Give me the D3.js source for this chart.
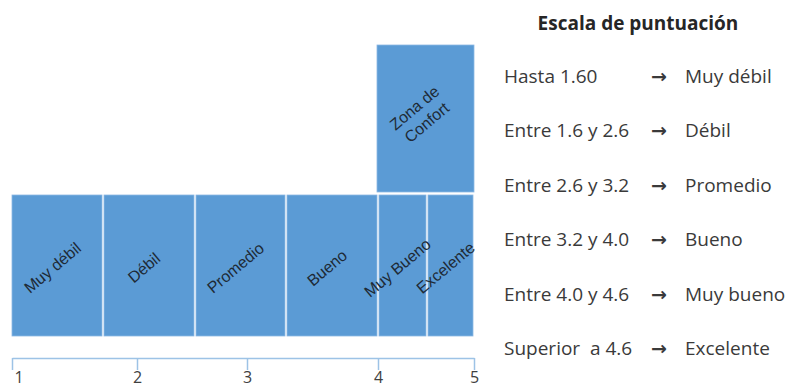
<!DOCTYPE html>
<meta charset="utf-8">
<script src="https://d3js.org/d3.v7.min.js"></script>
<style>
  body { margin: 0; background: #fff; }
</style>
<body>
<div id="my_visual"></div>
<script>

// score limits of each band (from the legend)
var breaks = [1, 1.6, 2.6, 3.2, 4.0, 4.6, 5];
var bandLabels = ["Muy débil", "Débil", "Promedio", "Bueno", "Muy Bueno", "Excelente"];
var tickValues = [1, 2, 3, 4, 5];

// comfort zone sits on top of the last two bands
var comfortFrom = 4, comfortTo = 5;
var comfortLabel = ["Zona de", "Confort"];

// legend
var legendTitle = "Escala de puntuación";
var legendRanges = ["Hasta 1.60", "Entre 1.6 y 2.6", "Entre 2.6 y 3.2", "Entre 3.2 y 4.0", "Entre 4.0 y 4.6", "Superior  a 4.6"];
var legendRatings = ["Muy débil", "Débil", "Promedio", "Bueno", "Muy bueno", "Excelente"];

var W = 790, H = 388;
var blue = "#5b9bd5";

var svg = d3.select("#my_visual")
  .append("svg")
    .attr("width", W)
    .attr("height", H);

// piecewise scale: the drawing is not linear in the score,
// each band and tick has its own place
var x = d3.scaleLinear()
    .domain([1, 1.6, 2, 2.6, 3, 3.2, 4, 4.6, 5])
    .range([12, 103, 137, 195, 247, 286, 378, 427, 474]);

// two stacked levels: the bands, then the comfort zone
var y = d3.scaleLinear()
    .domain([0, 1, 2])
    .range([336, 193.5, 45]);

var bands = bandLabels.map(function(l, i) {
  return {label: l, lo: breaks[i], hi: breaks[i + 1]};
});

// band rectangles
svg.append("g")
  .selectAll("rect")
  .data(bands)
  .enter()
  .append("rect")
    .attr("x", function(d) { return x(d.lo) + (d.lo == 1 ? 0 : 1); })
    .attr("y", y(1) + 1.5)
    .attr("width", function(d) { return x(d.hi) - x(d.lo) - (d.lo == 1 ? 1 : 2); })
    .attr("height", y(0) - y(1) - 1.5)
    .attr("fill", blue)
    .attr("stroke", "#8db8e3")
    .attr("stroke-width", 0.8);

// band labels, rotated
svg.append("g")
  .selectAll("text")
  .data(bands)
  .enter()
  .append("text")
    .attr("transform", function(d) {
      var cx = (x(d.lo) + x(d.hi)) / 2 - 5;
      var cy = (y(0) + y(1)) / 2 + 3;
      return "translate(" + cx + "," + cy + ") rotate(-40)";
    })
    .attr("text-anchor", "middle")
    .attr("dy", "0.35em")
    .style("font-family", "Liberation Sans, Arial, sans-serif")
    .style("font-size", "16px")
    .attr("fill", "#1e2a36")
    .text(function(d) { return d.label; });

// comfort zone
svg.append("rect")
    .attr("x", x(comfortFrom) - 1)
    .attr("y", y(2))
    .attr("width", x(comfortTo) - x(comfortFrom) + 1)
    .attr("height", y(1) - y(2) - 1.5)
    .attr("fill", blue)
    .attr("stroke", "#8db8e3")
    .attr("stroke-width", 0.8);

var ct = svg.append("text")
    .attr("transform", "translate(" + ((x(comfortFrom) + x(comfortTo)) / 2 - 7) + "," + ((y(1) + y(2)) / 2 - 6) + ") rotate(-40)")
    .attr("text-anchor", "middle")
    .style("font-family", "Liberation Sans, Arial, sans-serif")
    .style("font-size", "16px")
    .attr("fill", "#1e2a36");
ct.selectAll("tspan")
  .data(comfortLabel)
  .enter()
  .append("tspan")
    .attr("x", 0)
    .attr("dy", function(d, i) { return i == 0 ? "-0.1em" : "1.2em"; })
    .text(function(d) { return d; });

// axis
var axis = svg.append("g")
    .attr("transform", "translate(0,358)")
    .call(d3.axisBottom(x).tickValues(tickValues).tickFormat(d3.format("d"))
      .tickSize(12).tickSizeOuter(0).tickPadding(2));
axis.selectAll("path, line")
    .attr("stroke", "#9dc3e6")
    .attr("stroke-width", 1.5);
axis.selectAll("text")
    .style("font-family", "Open Sans, sans-serif")
    .style("font-size", "16px")
    .attr("fill", "#404040");
axis.select(".tick text").attr("text-anchor", "start").attr("dx", "2px");

// legend
svg.append("text")
    .attr("x", 638)
    .attr("y", 30)
    .attr("text-anchor", "middle")
    .style("font-family", "Open Sans, sans-serif")
    .style("font-weight", "bold")
    .style("font-size", "19px")
    .attr("fill", "#262626")
    .text(legendTitle);

var ly = d3.scalePoint()
    .domain(legendRatings)
    .range([83, 355]);

var rows = svg.append("g")
  .selectAll("g")
  .data(legendRatings)
  .enter()
  .append("g")
    .attr("transform", function(d) { return "translate(0," + ly(d) + ")"; })
    .style("font-family", "Open Sans, sans-serif")
    .style("font-size", "19px")
    .attr("fill", "#3a3a3a");

rows.append("text")
    .attr("x", 504)
    .style("white-space", "pre")
    .text(function(d, i) { return legendRanges[i]; });
rows.append("text")
    .attr("x", 651)
    .style("font-family", "DejaVu Sans, sans-serif")
    .style("font-weight", "bold")
    .style("font-size", "19px")
    .text("\u2192");
rows.append("text")
    .attr("x", 685)
    .text(function(d) { return d; });

</script>
</body>
</html>
